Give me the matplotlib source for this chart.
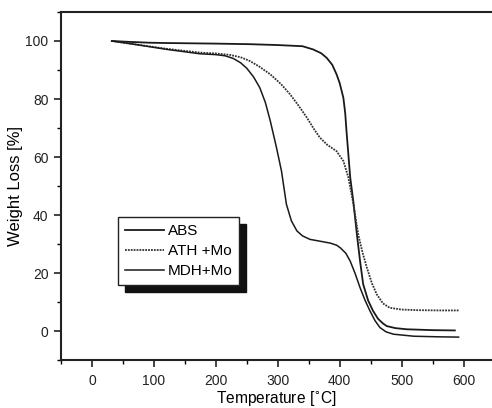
import matplotlib
matplotlib.use("Agg")
import matplotlib.pyplot as plt
from matplotlib.ticker import MultipleLocator

plt.rcParams['font.family'] = ['Liberation Sans', 'DejaVu Sans']

# Data
abs_T = [32, 60, 94, 121, 200, 255, 300, 340, 357, 370, 379, 388, 395, 400, 406, 409, 411, 414, 417, 422, 428, 433, 438, 446, 454, 462, 470, 476, 490, 508, 550, 586]
abs_W = [100, 99.7, 99.4, 99.3, 99.1, 98.9, 98.6, 98.2, 97.1, 95.8, 94.2, 91.8, 88.5, 85.5, 80.4, 75, 69, 61, 53, 44.8, 33, 24, 16.1, 10.5, 6.9, 4.2, 2.6, 1.7, 1.0, 0.6, 0.3, 0.2]

ath_T = [32, 61, 121, 174, 200, 223, 240, 255, 270, 288, 305, 320, 334, 347, 358, 368, 380, 395, 406, 414, 422, 430, 437, 444, 452, 460, 470, 481, 500, 524, 560, 592]
ath_W = [100, 99.1, 97.3, 96.0, 95.7, 95.2, 94.4, 93.1, 91.2, 88.5, 85.2, 81.6, 77.6, 73.6, 69.8, 66.7, 64.2, 62, 58.6, 53, 44, 33.3, 27, 21.8, 16.5, 12.6, 9.5, 8.0, 7.4, 7.2, 7.1, 7.1]

mdh_T = [32, 61, 121, 174, 200, 215, 228, 240, 250, 261, 271, 280, 288, 298, 306, 314, 322, 331, 340, 352, 370, 385, 395, 401, 410, 417, 425, 433, 441, 449, 457, 465, 475, 487, 520, 560, 592]
mdh_W = [100, 99.1, 97.1, 95.6, 95.3, 94.9, 94.0, 92.5, 90.6, 87.6, 83.9, 78.8, 72.4, 63.2, 55.2, 43.7, 38, 34.5, 32.8, 31.6, 30.9, 30.3, 29.6, 28.7, 26.8, 24.1, 19.8, 14.9, 10.6, 6.9, 3.6, 1.2, -0.3, -1.1, -1.8, -2.0, -2.1]

labels = ["ABS", "ATH +Mo", "MDH+Mo"]
x_ticks = [0, 100, 200, 300, 400, 500, 600]
y_ticks = [0, 20, 40, 60, 80, 100]

fig = plt.figure(figsize=(4.92, 4.08), dpi=100)
ax = fig.add_axes([0.124, 0.1176, 0.876, 0.853])

ax.plot(abs_T, abs_W, color='#1a1a1a', lw=1.3, label=labels[0])
ax.plot(ath_T, ath_W, color='#333333', lw=1.3, ls=(0, (1, 0.6)), label=labels[1])
ax.plot(mdh_T, mdh_W, color='#1a1a1a', lw=1.1, label=labels[2])

ax.set_xlim(-50, 646)
ax.set_ylim(-10, 110)
ax.set_xticks(x_ticks)
ax.set_yticks(y_ticks)
ax.xaxis.set_minor_locator(MultipleLocator(50))
ax.yaxis.set_minor_locator(MultipleLocator(10))
ax.tick_params(which='major', direction='out', length=5, width=1.2, labelsize=10, colors='#222222')
ax.tick_params(which='minor', direction='out', length=3, width=1.0)
ax.tick_params(axis='y', pad=4)
ax.tick_params(axis='x', pad=5)
for s in ['left', 'bottom', 'top']:
    ax.spines[s].set_linewidth(1.5)
    ax.spines[s].set_color('#222222')
ax.spines['right'].set_visible(False)

ax.set_xlabel("Temperature [$^{\\circ}$C]", fontsize=11.2, labelpad=1)
ax.set_ylabel("Weight Loss [%]", fontsize=12, labelpad=2)

leg = ax.legend(loc='lower left', bbox_to_anchor=(0.132, 0.215), fontsize=11,
                frameon=True, fancybox=False, edgecolor='#222222',
                shadow={'ox': 5, 'oy': -5, 'color': '#111111', 'alpha': 1},
                handlelength=2.6, handletextpad=0.2, borderpad=0.45, labelspacing=0.4,
                borderaxespad=0)
leg.get_frame().set_linewidth(1.0)

fig.savefig("out.png", dpi=100)
